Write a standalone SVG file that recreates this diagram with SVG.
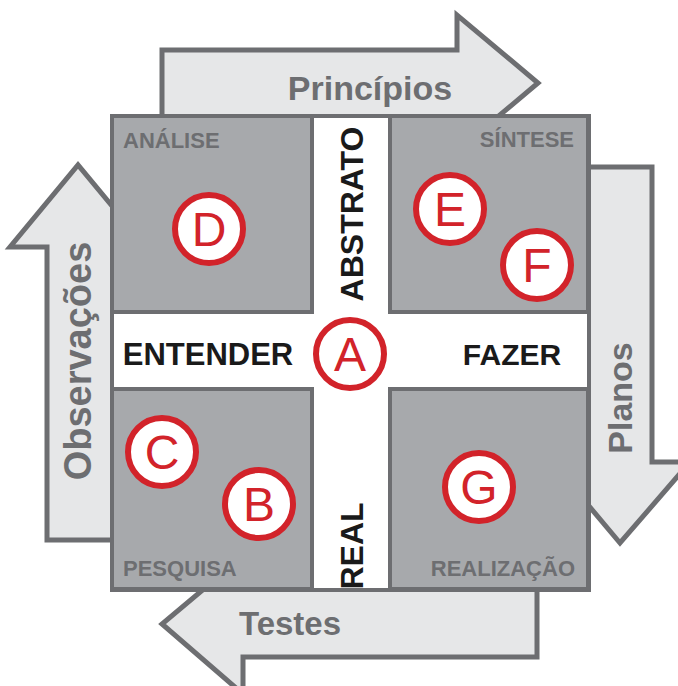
<svg xmlns="http://www.w3.org/2000/svg" width="678" height="686" viewBox="0 0 678 686">
<style>
.arrow{fill:#e6e7e8;stroke:#6d6e71;stroke-width:5;stroke-linejoin:miter}
.alabel{font-family:"Liberation Sans",Arial,sans-serif;font-weight:bold;fill:#6d6e71;text-anchor:middle}
.quad{fill:#a7a9ac;stroke:#6d6e71;stroke-width:4}
.qlabel{font-family:"Liberation Sans",Arial,sans-serif;font-weight:bold;font-size:22px;fill:#6d6e71}
.axis{font-family:"Liberation Sans",Arial,sans-serif;font-weight:bold;fill:#1a1a1a;text-anchor:middle}
.ring{fill:#ffffff;stroke:#d2232a;stroke-width:6}
.letter{font-family:"Liberation Sans",Arial,sans-serif;font-size:48px;fill:#d2232a;text-anchor:middle}
</style>
<rect width="678" height="686" fill="#ffffff"/>
<g id="connectors">
  <g id="arrow-principios">
    <polygon class="arrow" points="162,118 162,50 457,50 457,15 538,83 457,151 457,118"/>
    <text class="alabel" x="370" y="100" font-size="34">Princípios</text>
  </g>
  <g id="arrow-planos">
    <polygon class="arrow" points="586,167 652,167 652,462 690,462 620,543 552,462 586,462"/>
    <text class="alabel" font-size="34" transform="translate(632,398) rotate(-90)">Planos</text>
  </g>
  <g id="arrow-testes">
    <polygon class="arrow" points="537,588 537,657 243,657 243,694 162,624 243,556 243,588"/>
    <text class="alabel" x="290" y="635" font-size="33">Testes</text>
  </g>
  <g id="arrow-observacoes">
    <polygon class="arrow" points="114,540 47,540 47,247 10,247 78,165 146,247 114,247"/>
    <text class="alabel" font-size="38" transform="translate(91,361) rotate(-90)">Observações</text>
  </g>
</g>
<g id="frame">
  <rect x="112" y="116" width="477" height="474" fill="#ffffff" stroke="#6d6e71" stroke-width="4"/>
</g>
<g id="analise">
  <rect class="quad" x="112" y="116" width="200" height="196"/>
  <text class="qlabel" x="123" y="148">ANÁLISE</text>
</g>
<g id="sintese">
  <rect class="quad" x="390" y="116" width="198" height="196"/>
  <text class="qlabel" x="574" y="147" text-anchor="end">SÍNTESE</text>
</g>
<g id="pesquisa">
  <rect class="quad" x="112" y="389" width="200" height="200"/>
  <text class="qlabel" x="123" y="576">PESQUISA</text>
</g>
<g id="realizacao">
  <rect class="quad" x="390" y="389" width="198" height="200"/>
  <text class="qlabel" x="575" y="576" text-anchor="end">REALIZAÇÃO</text>
</g>
<g id="axis-labels">
  <text class="axis" x="208" y="365" font-size="31">ENTENDER</text>
  <text class="axis" x="512" y="365" font-size="30">FAZER</text>
  <text class="axis" font-size="32" transform="translate(363,214) rotate(-90)">ABSTRATO</text>
  <text class="axis" font-size="32" transform="translate(363,546) rotate(-90)">REAL</text>
</g>
<g id="node-A"><circle class="ring" cx="350" cy="354" r="34"/><text class="letter" x="350" y="371">A</text></g>
<g id="node-B"><circle class="ring" cx="259" cy="504" r="34"/><text class="letter" x="259" y="521">B</text></g>
<g id="node-C"><circle class="ring" cx="162" cy="452" r="34"/><text class="letter" x="162" y="469">C</text></g>
<g id="node-D"><circle class="ring" cx="209" cy="229" r="34"/><text class="letter" x="209" y="246">D</text></g>
<g id="node-E"><circle class="ring" cx="450" cy="209" r="34"/><text class="letter" x="450" y="226">E</text></g>
<g id="node-F"><circle class="ring" cx="537" cy="265" r="34"/><text class="letter" x="537" y="282">F</text></g>
<g id="node-G"><circle class="ring" cx="479" cy="487" r="34"/><text class="letter" x="479" y="504">G</text></g>
</svg>
